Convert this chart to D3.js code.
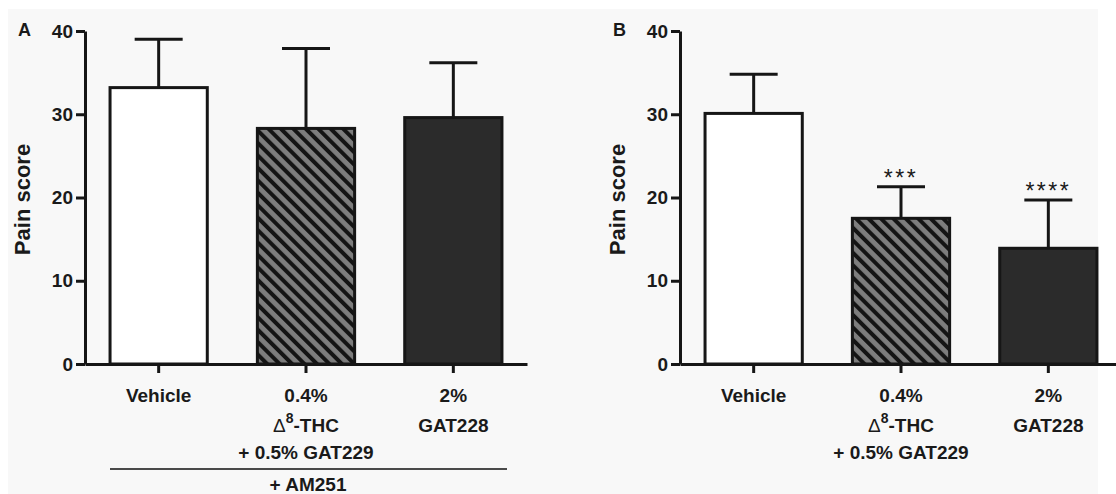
<!DOCTYPE html>
<html>
<head>
<meta charset="utf-8">
<script src="https://cdn.jsdelivr.net/npm/d3@7"></script>
<style>
  html, body { margin: 0; padding: 0; background: #ffffff; }
  svg { display: block; }
  text { font-family: "Liberation Sans", Arial, sans-serif; font-weight: bold; fill: #1a1a1a; }
</style>
</head>
<body>
<svg id="chart" width="1116" height="494"></svg>
<script>
// ---------- data ----------
const categories = ["Vehicle", "THC+GAT229", "GAT228"];
const labelLines = [
  ["Vehicle"],
  ["0.4%", "DELTA8-THC", "+ 0.5% GAT229"],
  ["2%", "GAT228"]
];
const valuesA = [33.2, 28.3, 29.6];
const semA    = [5.8, 9.6, 6.6];
const valuesB = [30.1, 17.5, 13.9];
const semB    = [4.7, 3.8, 5.8];
const starsA  = ["", "", ""];
const starsB  = ["", "***", "****"];
const yTicks  = [0, 10, 20, 30, 40];
const fills   = ["#ffffff", "url(#hatch)", "#2b2b2b"];

// ---------- setup ----------
const svg = d3.select("#chart");
svg.append("rect").attr("x", 8).attr("y", 9).attr("width", 1090).attr("height", 485).attr("fill", "#f8f8f8");

const defs = svg.append("defs");
const pat = defs.append("pattern")
  .attr("id", "hatch")
  .attr("patternUnits", "userSpaceOnUse")
  .attr("width", 8.8).attr("height", 8.8)
  .attr("patternTransform", "rotate(-45)");
pat.append("rect").attr("width", 8.8).attr("height", 8.8).attr("fill", "#7d7d7d");
pat.append("rect").attr("width", 4).attr("height", 8.8).attr("fill", "#141414");

const y = d3.scaleLinear().domain([0, 40]).range([364, 31]);

function panel(x0, letter, values, sem, stars, groupLabel) {
  const x = d3.scaleBand().domain(categories).range([x0, x0 + 442]).paddingInner(0.34).paddingOuter(0.17);
  const g = svg.append("g");

  // bars
  g.selectAll("rect.bar").data(categories).join("rect")
    .attr("class", "bar")
    .attr("x", d => x(d))
    .attr("width", x.bandwidth())
    .attr("y", (d, i) => y(values[i]))
    .attr("height", (d, i) => y(0) - y(values[i]))
    .attr("fill", (d, i) => fills[i])
    .attr("stroke", "#161616").attr("stroke-width", 3);

  // error bars (upper only)
  const cx = d => x(d) + x.bandwidth() / 2;
  g.selectAll("line.err").data(categories).join("line")
    .attr("class", "err")
    .attr("x1", cx).attr("x2", cx)
    .attr("y1", (d, i) => y(values[i]))
    .attr("y2", (d, i) => y(values[i] + sem[i]))
    .attr("stroke", "#161616").attr("stroke-width", 3);
  g.selectAll("line.cap").data(categories).join("line")
    .attr("class", "cap")
    .attr("x1", d => cx(d) - 24).attr("x2", d => cx(d) + 24)
    .attr("y1", (d, i) => y(values[i] + sem[i]))
    .attr("y2", (d, i) => y(values[i] + sem[i]))
    .attr("stroke", "#161616").attr("stroke-width", 3);

  // significance stars
  g.selectAll("text.star").data(categories).join("text")
    .attr("class", "star")
    .attr("x", cx)
    .attr("y", (d, i) => y(values[i] + sem[i]) - 1)
    .attr("text-anchor", "middle")
    .style("font-weight", "normal")
    .style("font-size", "23px")
    .style("letter-spacing", "2.5px")
    .text((d, i) => stars[i]);

  // axes
  const yAxis = g.append("g").attr("transform", `translate(${x0},0)`)
    .call(d3.axisLeft(y).tickValues(yTicks).tickSize(9).tickSizeOuter(0).tickPadding(3));
  const xAxis = g.append("g").attr("transform", `translate(0,${y(0)})`)
    .call(d3.axisBottom(x).tickSize(9).tickSizeOuter(0).tickFormat(""));
  [yAxis, xAxis].forEach(a => {
    a.selectAll("path.domain").attr("stroke", "#161616").attr("stroke-width", 3);
    a.selectAll(".tick line").attr("stroke", "#161616").attr("stroke-width", 3);
  });
  yAxis.selectAll(".tick text").style("font-size", "19px")
    .style("font-family", "'Liberation Sans', Arial, sans-serif").style("font-weight", "bold").attr("fill", "#1a1a1a");

  // category labels
  const lineY = [402, 432, 459];
  categories.forEach((c, i) => {
    labelLines[i].forEach((ln, j) => {
      const t = g.append("text").attr("x", cx(c)).attr("y", lineY[j])
        .attr("text-anchor", "middle").style("font-size", "19px");
      if (ln.startsWith("DELTA8")) {
        t.append("tspan").text("\u0394").style("font-weight", "normal");
        t.append("tspan").text("8").attr("dy", -9).style("font-size", "14px");
        t.append("tspan").text(ln.replace("DELTA8", "")).attr("dy", 9);
      } else {
        t.text(ln);
      }
    });
  });

  // y label
  g.append("text")
    .attr("transform", `translate(${x0 - 55},${(y(0) + y(40)) / 2 + 2}) rotate(-90)`)
    .attr("text-anchor", "middle")
    .style("font-size", "22px")
    .text("Pain score");

  // panel letter
  g.append("text").attr("x", x0 - 67).attr("y", 36).style("font-size", "18px").text(letter);

  if (groupLabel) {
    g.append("line").attr("x1", x0 + 25).attr("x2", x0 + 422).attr("y1", 469).attr("y2", 469)
      .attr("stroke", "#4a4a4a").attr("stroke-width", 2);
    g.append("text").attr("x", x0 + 223).attr("y", 491).attr("text-anchor", "middle")
      .style("font-size", "19px").text(groupLabel);
  }
}

panel(85, "A", valuesA, semA, starsA, "+ AM251");
panel(680, "B", valuesB, semB, starsB, null);
</script>
</body>
</html>
